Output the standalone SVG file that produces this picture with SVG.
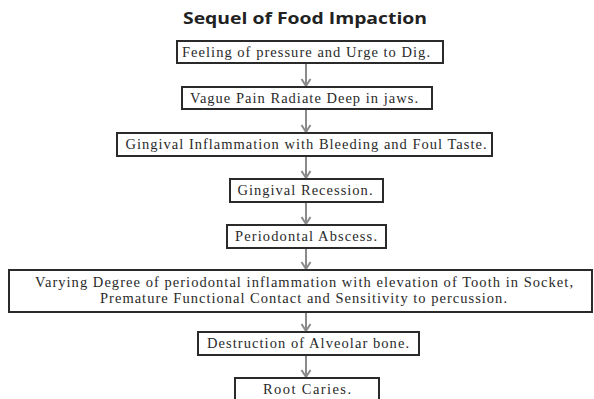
<svg xmlns="http://www.w3.org/2000/svg" width="594" height="399" viewBox="0 0 594 399">
<defs>
<style>
.box{fill:#fff;stroke:#2a2a2a;stroke-width:2}
.t{font-family:"Liberation Serif","Times New Roman",serif;font-size:14.5px;fill:#2a2a2a;text-anchor:middle}
.title{font-family:"Open Sans","Liberation Sans",sans-serif;font-weight:bold;font-size:15.5px;fill:#222;text-anchor:middle}
.c{stroke:#8a8a8a;stroke-width:2;fill:none}
</style>
<marker id="ah" markerWidth="12" markerHeight="12" refX="10" refY="6" orient="auto" markerUnits="userSpaceOnUse" viewBox="0 0 12 12">
<path d="M3,1.5 L10,6 L3,10.5" fill="none" stroke="#8a8a8a" stroke-width="2"/>
</marker>
</defs>
<rect width="594" height="399" fill="#fff"/>
<text class="title" x="305" y="24" textLength="244" lengthAdjust="spacingAndGlyphs">Sequel of Food Impaction</text>
<g id="connectors">
<line class="c" x1="306" y1="63" x2="306" y2="86" marker-end="url(#ah)"/>
<line class="c" x1="306" y1="109" x2="306" y2="132" marker-end="url(#ah)"/>
<line class="c" x1="306" y1="156" x2="306" y2="178" marker-end="url(#ah)"/>
<line class="c" x1="306" y1="202" x2="306" y2="224" marker-end="url(#ah)"/>
<line class="c" x1="306" y1="248" x2="306" y2="269" marker-end="url(#ah)"/>
<line class="c" x1="306" y1="312" x2="306" y2="331" marker-end="url(#ah)"/>
<line class="c" x1="306" y1="355" x2="306" y2="377" marker-end="url(#ah)"/>
</g>
<g id="n1"><rect class="box" x="177" y="41" width="266" height="22"/><text class="t" x="306" y="57" textLength="248" lengthAdjust="spacing">Feeling of pressure and Urge to Dig.</text></g>
<g id="n2"><rect class="box" x="182" y="87" width="250" height="22"/><text class="t" x="304" y="103" textLength="228" lengthAdjust="spacing">Vague Pain Radiate Deep in jaws.</text></g>
<g id="n3"><rect class="box" x="117" y="133" width="375" height="23"/><text class="t" x="306" y="149" textLength="361" lengthAdjust="spacing">Gingival Inflammation with Bleeding and Foul Taste.</text></g>
<g id="n4"><rect class="box" x="230" y="179" width="153" height="23"/><text class="t" x="305" y="195" textLength="135" lengthAdjust="spacing">Gingival Recession.</text></g>
<g id="n5"><rect class="box" x="227" y="225" width="159" height="23"/><text class="t" x="306" y="241" textLength="142" lengthAdjust="spacing">Periodontal Abscess.</text></g>
<g id="n6"><rect class="box" x="9" y="270" width="583" height="42"/><text class="t" x="304" y="287" textLength="538" lengthAdjust="spacing">Varying Degree of periodontal inflammation with elevation of Tooth in Socket,</text><text class="t" x="303.5" y="303" textLength="407" lengthAdjust="spacing">Premature Functional Contact and Sensitivity to percussion.</text></g>
<g id="n7"><rect class="box" x="198" y="332" width="221" height="23"/><text class="t" x="308" y="348" textLength="202" lengthAdjust="spacing">Destruction of Alveolar bone.</text></g>
<g id="n8"><rect class="box" x="235" y="378" width="144" height="24"/><text class="t" x="307" y="394" textLength="88" lengthAdjust="spacing">Root Caries.</text></g>
</svg>
